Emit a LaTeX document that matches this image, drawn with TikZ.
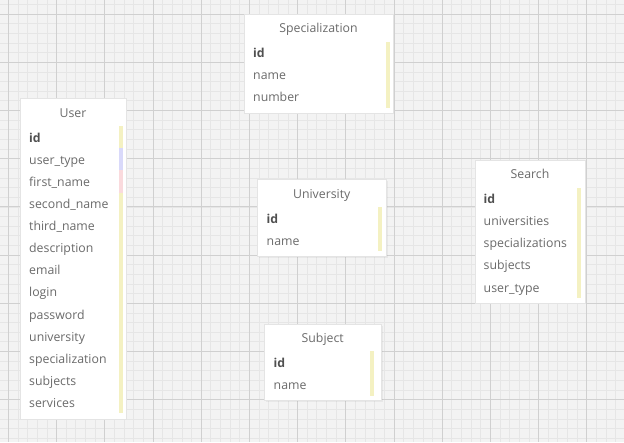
\documentclass[tikz,border=0pt]{standalone}
\usepackage{fontspec}
\setmainfont{Open Sans}
\usetikzlibrary{shadows}
\definecolor{bgc}{HTML}{F3F3F3}
\definecolor{minorc}{HTML}{E6E6E6}
\definecolor{majorc}{HTML}{D0D0D0}
\definecolor{txtc}{HTML}{6A6A6A}
\definecolor{idc}{HTML}{505050}
\definecolor{barY}{HTML}{F4F1C2}
\definecolor{barB}{HTML}{D9D9FA}
\definecolor{barP}{HTML}{FADADD}
\tikzset{
  tbl/.style={fill=white, draw={rgb,255:red,228;green,228;blue,228}, line width=0.4pt, anchor=north west, inner sep=0pt,
    drop shadow={shadow xshift=1pt, shadow yshift=-1pt, opacity=0.10}},
  ttl/.style={font=\fontsize{12.3}{14}\selectfont, text=txtc, anchor=base, inner sep=0pt},
  fld/.style={font=\fontsize{12.3}{14}\selectfont, text=txtc, anchor=base west, inner sep=0pt},
  pk/.style={fld, text=idc, font=\fontsize{12.3}{14}\selectfont\bfseries},
  bar/.style={draw=none, inner sep=0pt}
}
\begin{document}
\begin{tikzpicture}[x=1pt,y=-1pt]
\useasboundingbox (0,0) rectangle (624,442);
\fill[bgc] (0,0) rectangle (624,442);
% minor grid
\foreach \i in {-1,...,64} {\draw[minorc, line width=0.6pt] ({8.3+\i*9.64},0) -- ({8.3+\i*9.64},442);}
\foreach \j in {-2,...,45} {\draw[minorc, line width=0.6pt] (0,{14+\j*9.64}) -- (624,{14+\j*9.64});}
% major grid
\foreach \i in {0,...,12} {\draw[majorc, line width=0.7pt] ({8.3+\i*48.2},0) -- ({8.3+\i*48.2},442);}
\foreach \j in {0,...,8} {\draw[majorc, line width=0.7pt] (0,{14+\j*48.2}) -- (624,{14+\j*48.2});}

% ---------- User ----------
\node[tbl, minimum width=106pt, minimum height=321pt] (user) at (20,98) {};
\fill[barY] (119,126) rectangle (122.5,413);
\fill[barB] (119,148) rectangle (122.5,170);
\fill[barP] (119,170) rectangle (122.5,192.5);
\node[ttl] (userT) at (73,117.5) {User};
\node[pk]  (u1)  at (29,142.2) {id};
\node[fld] (u2)  at (29,164.3) {user\_type};
\node[fld] (u3)  at (29,186.4) {first\_name};
\node[fld] (u4)  at (29,208.5) {second\_name};
\node[fld] (u5)  at (29,230.6) {third\_name};
\node[fld] (u6)  at (29,252.7) {description};
\node[fld] (u7)  at (29,274.8) {email};
\node[fld] (u8)  at (29,296.9) {login};
\node[fld] (u9)  at (29,319.0) {password};
\node[fld] (u10) at (29,341.1) {university};
\node[fld] (u11) at (29,363.2) {specialization};
\node[fld] (u12) at (29,385.3) {subjects};
\node[fld] (u13) at (29,407.4) {services};

% ---------- Specialization ----------
\node[tbl, minimum width=149pt, minimum height=99pt] (spec) at (244,14) {};
\fill[barY] (386,41.7) rectangle (389.7,107.7);
\node[ttl] (specT) at (318.5,32.5) {Specialization};
\node[pk]  (s1) at (253,57.2) {id};
\node[fld] (s2) at (253,79.4) {name};
\node[fld] (s3) at (253,101.6) {number};

% ---------- University ----------
\node[tbl, minimum width=129pt, minimum height=77pt] (univ) at (257.3,179.3) {};
\fill[barY] (378,206.7) rectangle (381.7,251);
\node[ttl] (univT) at (321.7,198.1) {University};
\node[pk]  (n1) at (266.5,223.2) {id};
\node[fld] (n2) at (266.5,245.4) {name};

% ---------- Subject ----------
\node[tbl, minimum width=117pt, minimum height=76pt] (subj) at (264.3,324.3) {};
\fill[barY] (370.3,351) rectangle (374,395.7);
\node[ttl] (subjT) at (322.7,342.5) {Subject};
\node[pk]  (b1) at (273.5,367.2) {id};
\node[fld] (b2) at (273.5,389.6) {name};

% ---------- Search ----------
\node[tbl, minimum width=110pt, minimum height=143pt] (srch) at (475,160) {};
\fill[barY] (577,187.7) rectangle (580.7,298.3);
\node[ttl] (srchT) at (530,178.8) {Search};
\node[pk]  (r1) at (483.5,203.2) {id};
\node[fld] (r2) at (483.5,225.4) {universities};
\node[fld] (r3) at (483.5,247.6) {specializations};
\node[fld] (r4) at (483.5,269.8) {subjects};
\node[fld] (r5) at (483.5,292.0) {user\_type};
\end{tikzpicture}
\end{document}
